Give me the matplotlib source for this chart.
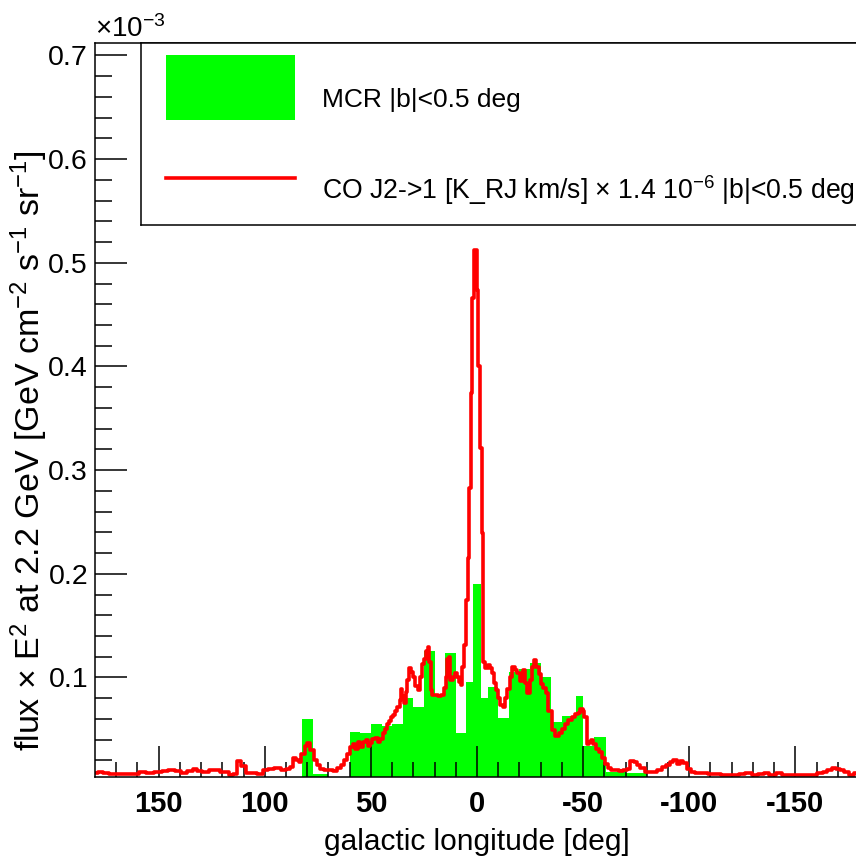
import matplotlib.pyplot as plt
import numpy as np
from matplotlib.patches import Rectangle

plt.rcParams['font.family'] = ['Liberation Sans', 'DejaVu Sans']
plt.rcParams['mathtext.fontset'] = 'custom'
plt.rcParams['mathtext.rm'] = 'Liberation Sans'
plt.rcParams['mathtext.it'] = 'Liberation Sans:italic'
plt.rcParams['mathtext.bf'] = 'Liberation Sans:bold'
plt.rcParams['mathtext.sf'] = 'Liberation Sans'
plt.rcParams['mathtext.default'] = 'regular'

# MCR |b|<0.5 histogram: bin edges in galactic longitude [deg], flux in 1e-3 units
mcr_edges = [-80, -70, -61, -55, -50, -46.5, -40, -35, -30, -25, -20, -15, -10,
             -5, -2, 2, 5, 10, 15, 20, 25, 30, 35, 40, 45, 50, 55, 60, 70,
             77.5, 82.5]
mcr_flux = [0.0075, 0.009, 0.0427, 0.034, 0.082, 0.063, 0.057, 0.1006, 0.1141,
            0.1077, 0.1054, 0.0605, 0.0909, 0.0803, 0.1906, 0.0958, 0.046,
            0.1237, 0.082, 0.1254, 0.0716, 0.0803, 0.0556, 0.053, 0.0556,
            0.046, 0.0475, 0.0, 0.0065, 0.0598]

# CO J2->1 profile scaled by 1.4e-6, same units
co_lon = [180, 177, 175, 172, 168, 164, 161, 158, 154, 150, 147, 144, 141, 138,
          135, 133, 131, 128, 125, 122, 120, 118, 116, 114, 112, 110, 108, 105,
          102, 100, 97, 94, 91, 89, 87, 86, 84.5, 83.5, 82, 80.5, 79.5, 78, 76,
          74.5, 73, 71, 69, 67, 65, 63.5, 62, 60.5, 59, 58, 57, 55.5, 54.5, 53,
          52, 51, 50, 49, 47.5, 46, 45, 44, 43, 42, 41, 40, 39, 38, 37, 36,
          35.5, 35, 34, 33, 32.5, 31.5, 30.5, 29.5, 28.5, 27.5, 26.5, 25.5,
          24.5, 23.5, 23, 22, 21.5, 20.5, 19, 17.5, 16, 15, 14.5, 13.5, 13, 12,
          11, 10, 9, 8, 7.2, 6.5, 5.7, 4.6, 4.0, 3.3, 2.5, 1.8, 1.2, 0.4, -0.3,
          -1.1, -1.9, -2.4, -2.8, -3.2, -4.4, -5.5, -6.5, -7.4, -8.5, -9.3,
          -10.5, -11.6, -12.5, -13.5, -14.8, -16, -17.1, -18.3, -19.5, -21,
          -22.3, -23.2, -24.2, -25.5, -26.5, -27.4, -28.5, -29.5, -30.5, -31.7,
          -32.9, -34.4, -36, -37.6, -39.5, -41, -42.3, -43.8, -45.5, -47,
          -48.2, -49.3, -50.2, -51, -52.5, -53.3, -54, -55.5, -56.8, -58,
          -59.5, -61, -62.6, -64, -66, -68, -70, -71.5, -73, -74.5, -76, -78,
          -80, -82, -84, -86, -88, -90, -91.5, -93.5, -95, -96.5, -98, -100,
          -101.6, -104, -108, -110, -112, -114, -116, -120, -122, -125, -128,
          -131, -134, -136, -139, -142.6, -145, -150, -155, -159, -161.7, -164,
          -166, -168.6, -170, -172, -174, -176.5, -179]
co_flux = [0.008, 0.009, 0.008, 0.0065, 0.0065, 0.0065, 0.007, 0.0085, 0.008,
           0.0085, 0.010, 0.011, 0.010, 0.008, 0.010, 0.012, 0.0095, 0.0085,
           0.011, 0.0105, 0.009, 0.009, 0.006, 0.007, 0.019, 0.015, 0.008,
           0.008, 0.007, 0.011, 0.012, 0.0125, 0.011, 0.012, 0.014, 0.022,
           0.020, 0.018, 0.026, 0.034, 0.037, 0.030, 0.020, 0.016, 0.012,
           0.0105, 0.0105, 0.010, 0.013, 0.016, 0.020, 0.026, 0.033, 0.036,
           0.031, 0.038, 0.033, 0.038, 0.040, 0.034, 0.037, 0.041, 0.042,
           0.038, 0.041, 0.046, 0.050, 0.055, 0.058, 0.062, 0.064, 0.068,
           0.072, 0.078, 0.089, 0.082, 0.075, 0.086, 0.098, 0.109, 0.105,
           0.100, 0.092, 0.088, 0.100, 0.113, 0.118, 0.126, 0.1295, 0.115,
           0.088, 0.083, 0.083, 0.082, 0.083, 0.090, 0.100, 0.118, 0.120,
           0.098, 0.100, 0.104, 0.100, 0.096, 0.093, 0.110, 0.131, 0.1745,
           0.215, 0.283, 0.374, 0.466, 0.512, 0.512, 0.474, 0.400, 0.321,
           0.239, 0.157, 0.115, 0.109, 0.112, 0.109, 0.104, 0.095, 0.088,
           0.080, 0.073, 0.072, 0.080, 0.089, 0.100, 0.110, 0.107, 0.104,
           0.097, 0.107, 0.095, 0.085, 0.098, 0.110, 0.1167, 0.110, 0.103,
           0.094, 0.090, 0.085, 0.068, 0.049, 0.044, 0.046, 0.050, 0.0556,
           0.059, 0.062, 0.065, 0.066, 0.070, 0.068, 0.062, 0.036, 0.038,
           0.040, 0.036, 0.031, 0.028, 0.022, 0.017, 0.0125, 0.011, 0.011,
           0.010, 0.0105, 0.012, 0.019, 0.018, 0.016, 0.013, 0.009, 0.009,
           0.009, 0.011, 0.014, 0.016, 0.018, 0.020, 0.017, 0.019, 0.0175,
           0.012, 0.009, 0.0077, 0.0077, 0.0072, 0.0067, 0.007, 0.0062,
           0.0062, 0.0062, 0.007, 0.008, 0.0062, 0.007, 0.0077, 0.0062, 0.008,
           0.0062, 0.0062, 0.0062, 0.0062, 0.0077, 0.009, 0.011, 0.013, 0.012,
           0.011, 0.009, 0.0055, 0.008]

major_x = [150, 100, 50, 0, -50, -100, -150]
major_y = [0.1, 0.2, 0.3, 0.4, 0.5, 0.6, 0.7]

W, H = 856, 859


def px(x0, y0, x1, y1):
    # pixel box (top-left origin) -> figure fraction rect
    return [x0 / W, 1 - y1 / H, (x1 - x0) / W, (y1 - y0) / H]


fig = plt.figure(figsize=(W / 100, H / 100), dpi=100)
ax = fig.add_axes(px(95, 43, 859, 777))

ax.stairs(mcr_flux, mcr_edges, fill=True, color='#00ff00', lw=0)
ax.plot(co_lon, co_flux, color='#ff0000', lw=2.6, drawstyle='steps-mid')

ax.set_xlim(180, -180)
ax.set_ylim(0.004, 0.712)

ax.set_xticks(major_x, labels=[str(v) for v in major_x], fontweight='bold')
ax.set_xticks(np.arange(-170, 180, 10), minor=True)
ax.set_yticks(major_y, labels=[f'{v:.1f}' for v in major_y])
ax.set_yticks(np.arange(0.02, 0.711, 0.02), minor=True)

ax.tick_params(which='both', direction='in', top=False, right=False, width=1.1)
ax.tick_params(axis='x', which='major', length=22, labelsize=21, pad=9)
ax.tick_params(axis='x', which='minor', length=11)
ax.tick_params(axis='y', which='major', length=23, labelsize=20.5, pad=5)
ax.tick_params(axis='y', which='minor', length=12)
for s in ax.spines.values():
    s.set_linewidth(1.1)

fig.text(95 / W, 1 - 37 / H, r'$\times$10$^{-3}$', fontsize=20, ha='left', va='baseline')
fig.text(477 / W, 1 - 842 / H, 'galactic longitude [deg]', fontsize=21.5,
         ha='center', va='center')
fig.text(29 / W, 1 - 451 / H,
         r'flux $\times$ E$^{2}$ at 2.2 GeV [GeV cm$^{-2}$ s$^{-1}$ sr$^{-1}$]',
         fontsize=24.5, rotation=90, ha='center', va='center')

# legend box
leg = fig.add_axes(px(141, 43, 870, 225))
leg.set_xlim(141, 870)
leg.set_ylim(225, 43)
leg.set_xticks([])
leg.set_yticks([])
for s in leg.spines.values():
    s.set_linewidth(1.1)
leg.add_patch(Rectangle((166, 55), 129, 65, color='#00ff00', lw=0))
leg.plot([166, 295], [178, 178], color='#ff0000', lw=2.6)
leg.text(322, 100, 'MCR |b|<0.5 deg', fontsize=19, va='center')
leg.text(322, 190, r'CO J2->1 [K_RJ km/s] $\times$ 1.4 10$^{-6}$ |b|<0.5 deg',
         fontsize=19.2, va='center')

fig.savefig('out.png', dpi=100)
